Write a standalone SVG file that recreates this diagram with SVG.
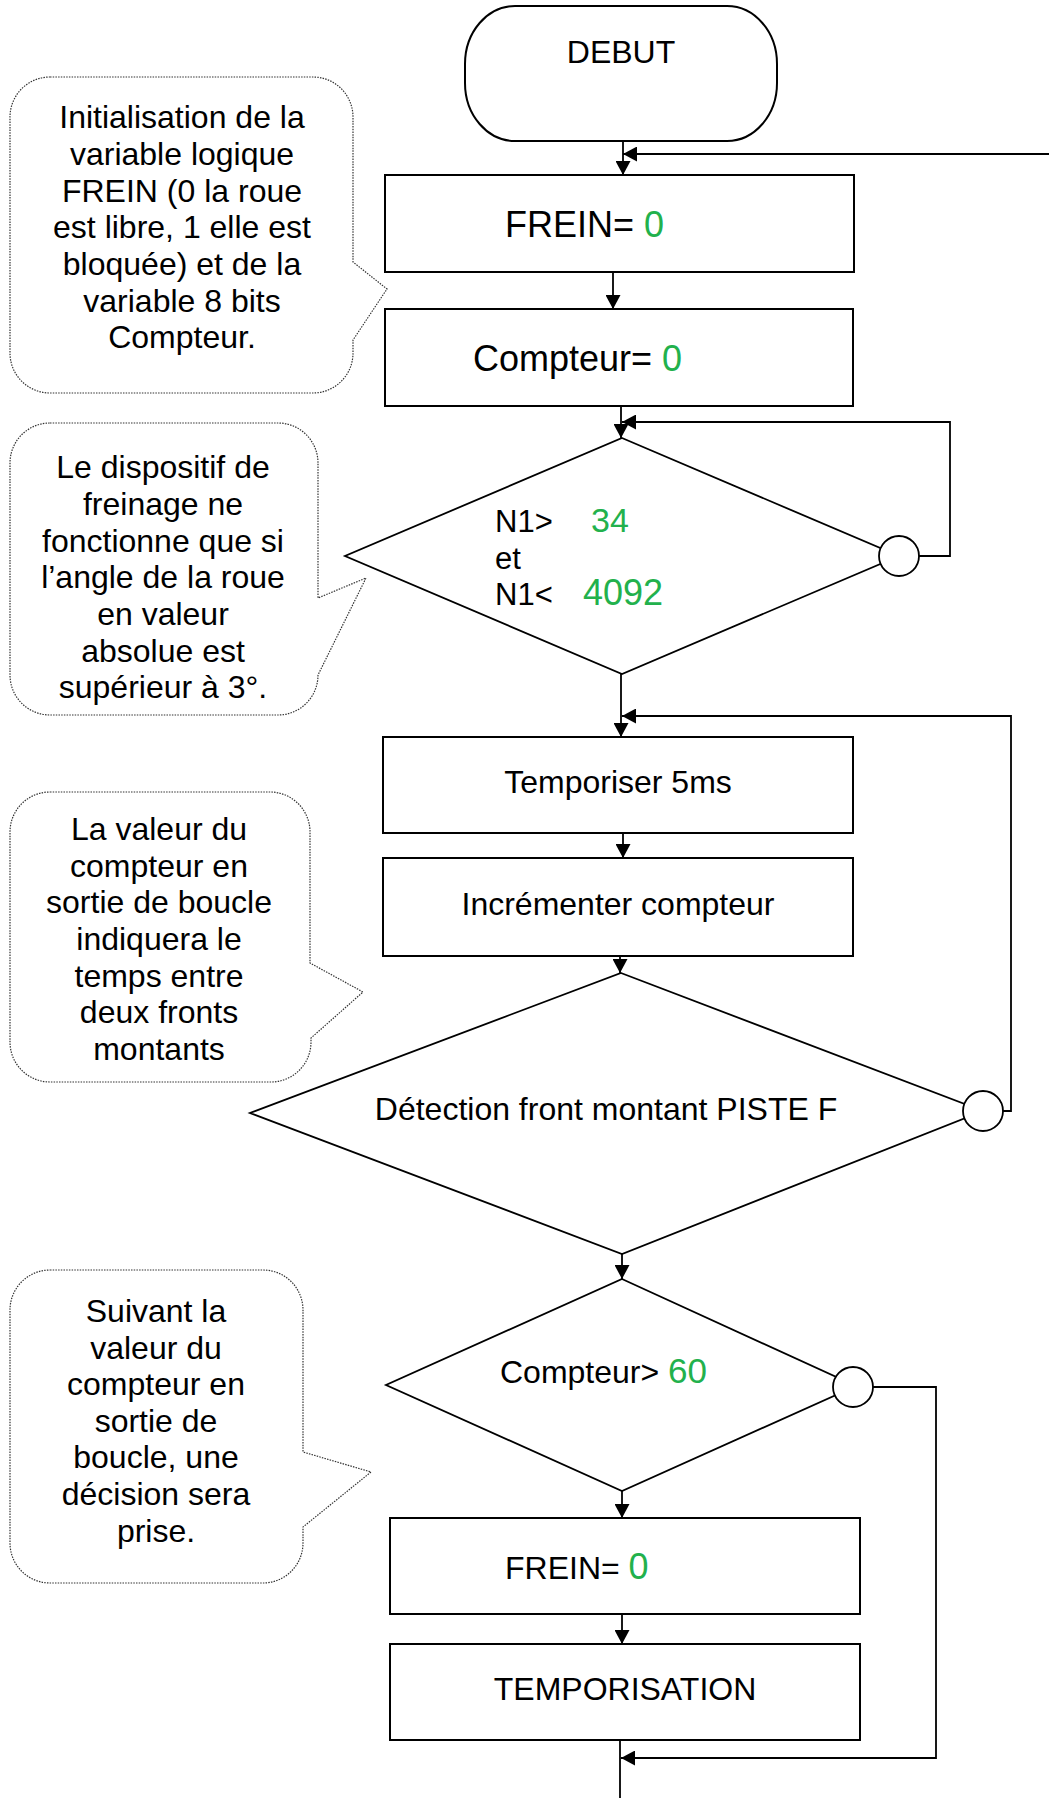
<svg xmlns="http://www.w3.org/2000/svg" width="1049" height="1798" viewBox="0 0 1049 1798">
<defs>
<marker id="ah" viewBox="0 0 14 15" refX="14" refY="7.5" markerWidth="14" markerHeight="15" orient="auto" markerUnits="userSpaceOnUse"><path d="M0,0 L14,7.5 L0,15 z" fill="#000"/></marker>
</defs>
<style>
.shape{fill:#fff;stroke:#000;stroke-width:2}
.dia{fill:#fff;stroke:#000;stroke-width:1.8}
.call{fill:#fff;stroke:#333;stroke-width:1.2;stroke-dasharray:1.5 1.2}
.con{fill:none;stroke:#000;stroke-width:1.8}
text{font-family:"Liberation Sans",Arial,sans-serif;fill:#000}
.c{font-size:32px;text-anchor:middle}
.g{fill:#22b14c}
</style>
<rect width="1049" height="1798" fill="#fff"/>

<g id="connectors">
<line class="con" x1="623" y1="141" x2="623" y2="175" marker-end="url(#ah)"/>
<line class="con" x1="1049" y1="154" x2="623" y2="154" marker-end="url(#ah)"/>
<line class="con" x1="613" y1="272" x2="613" y2="309" marker-end="url(#ah)"/>
<line class="con" x1="621" y1="406" x2="621" y2="438" marker-end="url(#ah)"/>
<polyline class="con" points="919,556 950,556 950,422 622,422" marker-end="url(#ah)"/>
<line class="con" x1="621" y1="674" x2="621" y2="737" marker-end="url(#ah)"/>
<polyline class="con" points="1003,1111 1011,1111 1011,716 622,716" marker-end="url(#ah)"/>
<line class="con" x1="623" y1="833" x2="623" y2="858" marker-end="url(#ah)"/>
<line class="con" x1="620" y1="956" x2="620" y2="973" marker-end="url(#ah)"/>
<line class="con" x1="622" y1="1254" x2="622" y2="1279" marker-end="url(#ah)"/>
<line class="con" x1="622" y1="1491" x2="622" y2="1518" marker-end="url(#ah)"/>
<line class="con" x1="622" y1="1614" x2="622" y2="1644" marker-end="url(#ah)"/>
<line class="con" x1="620" y1="1740" x2="620" y2="1798"/>
<polyline class="con" points="873,1387 936,1387 936,1758 621,1758" marker-end="url(#ah)"/>
</g>

<g id="debut">
<rect class="shape" x="465" y="6" width="312" height="135" rx="50" ry="58"/>
<text class="c" x="621" y="63">DEBUT</text>
</g>

<g id="frein1">
<rect class="shape" x="385" y="175" width="469" height="97"/>
<text x="505" y="237" font-size="36">FREIN= <tspan class="g">0</tspan></text>
</g>

<g id="compteur0">
<rect class="shape" x="385" y="309" width="468" height="97"/>
<text x="473" y="371" font-size="36">Compteur= <tspan class="g">0</tspan></text>
</g>

<g id="dec1">
<polygon class="dia" points="622,438 899,556 622,674 345,556"/>
<circle class="dia" cx="899" cy="556" r="20"/>
<text x="495" y="532" font-size="31">N1&gt;</text>
<text x="591" y="532" font-size="34" class="g">34</text>
<text x="495" y="569" font-size="31">et</text>
<text x="495" y="605" font-size="31">N1&lt;</text>
<text x="583" y="605" font-size="36" class="g">4092</text>
</g>

<g id="tempo5">
<rect class="shape" x="383" y="737" width="470" height="96"/>
<text class="c" x="618" y="793">Temporiser 5ms</text>
</g>

<g id="incr">
<rect class="shape" x="383" y="858" width="470" height="98"/>
<text class="c" x="618" y="915">Incrémenter compteur</text>
</g>

<g id="dec2">
<polygon class="dia" points="621,973 983,1111 622,1254 250,1113"/>
<circle class="dia" cx="983" cy="1111" r="20"/>
<text class="c" x="606" y="1120">Détection front montant PISTE F</text>
</g>

<g id="dec3">
<polygon class="dia" points="622,1279 856,1386 622,1491 386,1385"/>
<circle class="dia" cx="853" cy="1387" r="20"/>
<text x="500" y="1383" font-size="32">Compteur&gt; <tspan class="g" font-size="35">60</tspan></text>
</g>

<g id="frein2">
<rect class="shape" x="390" y="1518" width="470" height="96"/>
<text x="505" y="1579" font-size="32">FREIN= <tspan class="g" font-size="36">0</tspan></text>
</g>

<g id="temporisation">
<rect class="shape" x="390" y="1644" width="470" height="96"/>
<text class="c" x="625" y="1700">TEMPORISATION</text>
</g>

<g id="note1">
<path class="call" d="M50,77 H313 A40,40 0 0 1 353,117 V262 L387,289 L353,340 V353 A40,40 0 0 1 313,393 H50 A40,40 0 0 1 10,353 V117 A40,40 0 0 1 50,77 Z"/>
<text class="c" x="182" y="128">Initialisation de la</text>
<text class="c" x="182" y="165">variable logique</text>
<text class="c" x="182" y="202">FREIN (0 la roue</text>
<text class="c" x="182" y="238">est libre, 1 elle est</text>
<text class="c" x="182" y="275">bloquée) et de la</text>
<text class="c" x="182" y="312">variable 8 bits</text>
<text class="c" x="182" y="348">Compteur.</text>
</g>

<g id="note2">
<path class="call" d="M50,423 H278 A40,40 0 0 1 318,463 V598 L366,578 L318,675 A40,40 0 0 1 278,715 H50 A40,40 0 0 1 10,675 V463 A40,40 0 0 1 50,423 Z"/>
<text class="c" x="163" y="478">Le dispositif de</text>
<text class="c" x="163" y="515">freinage ne</text>
<text class="c" x="163" y="552">fonctionne que si</text>
<text class="c" x="163" y="588">l’angle de la roue</text>
<text class="c" x="163" y="625">en valeur</text>
<text class="c" x="163" y="662">absolue est</text>
<text class="c" x="163" y="698">supérieur à 3°.</text>
</g>

<g id="note3">
<path class="call" d="M50,792 H270 A40,40 0 0 1 310,832 V963 L363,992 L311,1038 V1042 A40,40 0 0 1 271,1082 H50 A40,40 0 0 1 10,1042 V832 A40,40 0 0 1 50,792 Z"/>
<text class="c" x="159" y="840">La valeur du</text>
<text class="c" x="159" y="877">compteur en</text>
<text class="c" x="159" y="913">sortie de boucle</text>
<text class="c" x="159" y="950">indiquera le</text>
<text class="c" x="159" y="987">temps entre</text>
<text class="c" x="159" y="1023">deux fronts</text>
<text class="c" x="159" y="1060">montants</text>
</g>

<g id="note4">
<path class="call" d="M50,1270 H263 A40,40 0 0 1 303,1310 V1452 L371,1472 L303,1527 V1543 A40,40 0 0 1 263,1583 H50 A40,40 0 0 1 10,1543 V1310 A40,40 0 0 1 50,1270 Z"/>
<text class="c" x="156" y="1322">Suivant la</text>
<text class="c" x="156" y="1359">valeur du</text>
<text class="c" x="156" y="1395">compteur en</text>
<text class="c" x="156" y="1432">sortie de</text>
<text class="c" x="156" y="1468">boucle, une</text>
<text class="c" x="156" y="1505">décision sera</text>
<text class="c" x="156" y="1542">prise.</text>
</g>
</svg>
